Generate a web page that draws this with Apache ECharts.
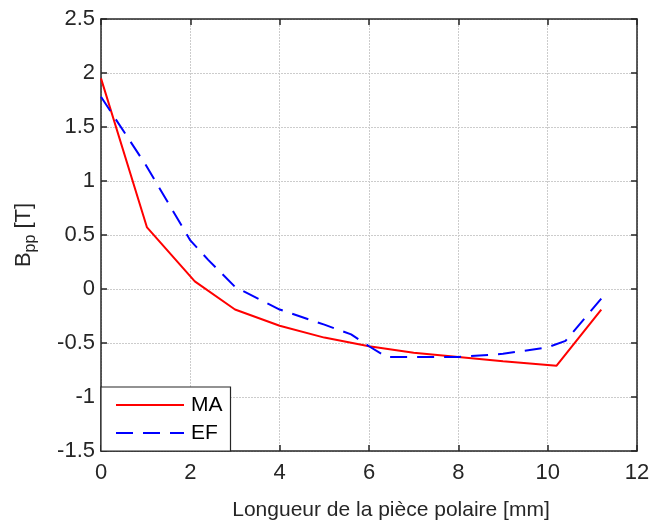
<!DOCTYPE html>
<html>
<head>
<meta charset="utf-8">
<script src="https://cdn.jsdelivr.net/npm/echarts@6/dist/echarts.min.js"></script>
<style>
html, body { margin: 0; padding: 0; background: #fff; }
#main { width: 653px; height: 521px; }
</style>
</head>
<body>
<div id="main"></div>
<script>
var chart = echarts.init(document.getElementById('main'));

// values
var maX = [0, 1.03, 2.1, 3, 4, 5, 6, 7, 8, 9, 10.2, 11.2];
var maY = [1.95, 0.57, 0.07, -0.19, -0.34, -0.45, -0.53, -0.59, -0.63, -0.67, -0.71, -0.19];
var efX = [0, 1, 2, 2.4, 3, 4, 5, 5.6, 6, 6.4, 8, 9, 10, 10.4, 11.2];
var efY = [1.78, 1.15, 0.45, 0.27, 0.02, -0.19, -0.33, -0.42, -0.53, -0.63, -0.63, -0.6, -0.54, -0.48, -0.09];
var seriesNames = ['MA', 'EF'];

function pairs(xs, ys) {
  return xs.map(function (x, i) { return [x, ys[i]]; });
}

var font = 'Liberation Sans, Arial, sans-serif';
var axisCol = '#262626';
var gridLine = { show: true, lineStyle: { color: '#cccccc', type: [2, 1], width: 1 } };

option = {
  animation: false,
  backgroundColor: '#fff',
  grid: { left: 101, right: 16, top: 19, bottom: 70, outerBoundsMode: 'none', containLabel: false },
  legend: {
    orient: 'vertical',
    left: 101,
    top: 387,
    padding: [7, 8, 7, 14],
    itemGap: 6,
    itemWidth: 68,
    itemHeight: 14,
    backgroundColor: '#fff',
    borderColor: axisCol,
    borderWidth: 1.2,
    borderRadius: 0,
    itemStyle: { opacity: 0 },
    textStyle: { fontFamily: font, fontSize: 21, lineHeight: 22, color: '#000', padding: [0, 0, 0, 2] },
    data: seriesNames
  },
  xAxis: [{
    type: 'value', min: 0, max: 12, interval: 2,
    name: 'Longueur de la pièce polaire [mm]',
    nameLocation: 'middle', nameGap: 49,
    nameTextStyle: { fontFamily: font, fontSize: 21, color: '#262626', padding: [0, 0, 0, 44] },
    axisLine: { show: true, onZero: false, lineStyle: { color: axisCol, width: 1.5 } },
    axisTick: { show: true, inside: true, length: 6, lineStyle: { color: axisCol, width: 1.5 } },
    axisLabel: { fontFamily: font, fontSize: 22, color: '#262626', margin: 11 },
    splitLine: gridLine
  }, {
    type: 'value', min: 0, max: 12, interval: 2, position: 'top',
    axisLine: { show: true, onZero: false, lineStyle: { color: axisCol, width: 1.5 } },
    axisTick: { show: true, inside: true, length: 6, lineStyle: { color: axisCol, width: 1.5 } },
    axisLabel: { show: false },
    splitLine: { show: false }
  }],
  yAxis: [{
    type: 'value', min: -1.5, max: 2.5, interval: 0.5,
    name: 'B{s|pp} [T]',
    nameLocation: 'middle', nameGap: 62,
    nameTextStyle: {
      fontFamily: font, fontSize: 22, color: '#262626',
      rich: { s: { fontFamily: font, fontSize: 16, color: '#262626', verticalAlign: 'bottom', padding: [14, 0, 0, 0] } }
    },
    axisLine: { show: true, onZero: false, lineStyle: { color: axisCol, width: 1.5 } },
    axisTick: { show: true, inside: true, length: 6, lineStyle: { color: axisCol, width: 1.5 } },
    axisLabel: { fontFamily: font, fontSize: 22, color: '#262626', margin: 6 },
    splitLine: gridLine
  }, {
    type: 'value', min: -1.5, max: 2.5, interval: 0.5, position: 'right',
    axisLine: { show: true, onZero: false, lineStyle: { color: axisCol, width: 1.5 } },
    axisTick: { show: true, inside: true, length: 6, lineStyle: { color: axisCol, width: 1.5 } },
    axisLabel: { show: false },
    splitLine: { show: false }
  }],
  series: [{
    name: seriesNames[0],
    type: 'line',
    data: pairs(maX, maY),
    showSymbol: false,
    symbol: 'none',
    lineStyle: { color: '#ff0000', width: 2, type: 'solid' },
    itemStyle: { color: '#ff0000' }
  }, {
    name: seriesNames[1],
    type: 'line',
    data: pairs(efX, efY),
    showSymbol: false,
    symbol: 'none',
    lineStyle: { color: '#0000ff', width: 2, type: [17, 10] },
    itemStyle: { color: '#0000ff' }
  }]
};

chart.setOption(option);
</script>
</body>
</html>
